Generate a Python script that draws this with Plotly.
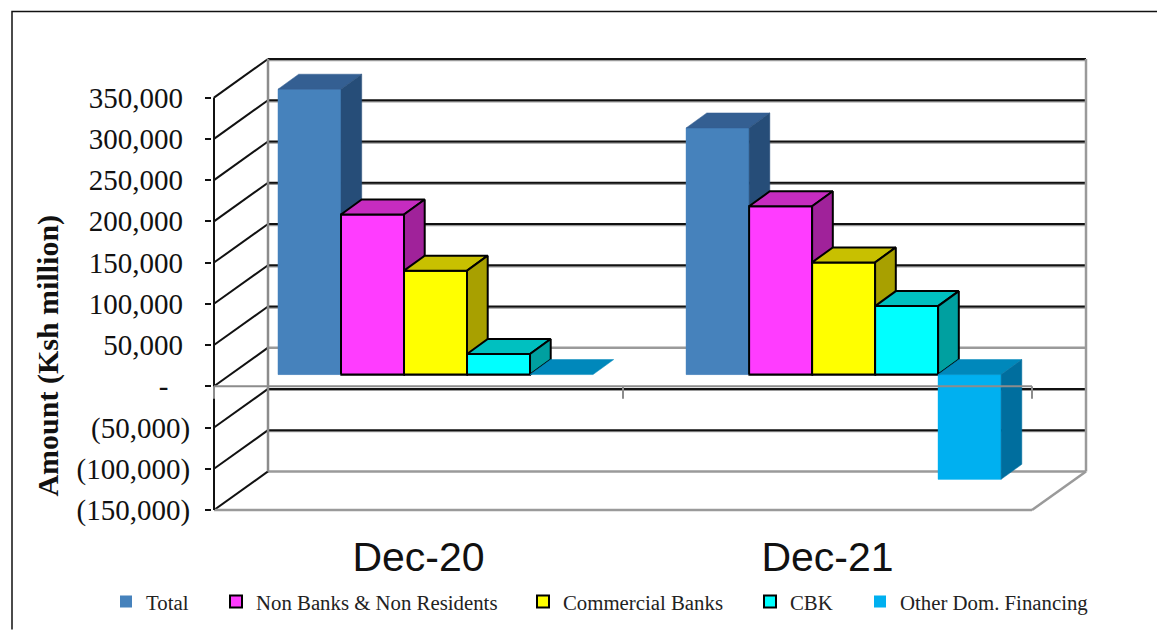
import plotly.graph_objects as go

categories = ["Dec-20", "Dec-21"]
series_names = ["Total", "Non Banks & Non Residents", "Commercial Banks", "CBK", "Other Dom. Financing"]
total_values = [346000, 299000]
non_bank_values = [194000, 204000]
commercial_values = [126000, 136000]
cbk_values = [25000, 83000]
other_values = [0, -127000]
tick_values = [350000, 300000, 250000, 200000, 150000, 100000, 50000, 0, -50000, -100000, -150000]
tick_labels = ["350,000\u00a0", "300,000\u00a0", "250,000\u00a0", "200,000\u00a0", "150,000\u00a0", "100,000\u00a0",
               "50,000\u00a0", "-\u00a0\u00a0\u00a0", "(50,000)", "(100,000)", "(150,000)"]
front_colors = ["#4682BC", "#FF3CFF", "#FFFF00", "#00FFFF", "#00B0F0"]
top_colors = ["#345F92", "#C62CC0", "#C8C000", "#00C0C0", "#0088BB"]
side_colors = ["#264D78", "#A0229A", "#A8A000", "#00A0A0", "#006E9E"]
outlined = [False, True, True, True, False]
legend_text_px = [146, 256, 563, 790, 900]

W, H = 1157, 630
L, R, T, B = 214, 1032, 98, 510.4      # front plane of the chart box, in page pixels
px_x = 2 / (R - L)
px_y = 500000 / (B - T)
wall_px_x, wall_px_y = 54, 38.6
wall_dx, wall_dy = wall_px_x * px_x, wall_px_y * px_y
depth_dx, depth_dy = 20.7 * px_x, 15 * px_y
bar_w = 63 * px_x
group_centers = [0.5416, 1.5394]
bar_base = 14200
pad = 2                                # room so the outer box lines are not clipped

all_values = [total_values, non_bank_values, commercial_values, cbk_values, other_values]
ymax, ymin = max(tick_values), min(tick_values)

# Plot area reaches the back wall of the box
pL, pR = L - pad, R + wall_px_x + pad
pT, pB = T - wall_px_y - pad, B + pad
x_range = [-pad * px_x, 2 + wall_dx + pad * px_x]
y_range = [ymin - pad * px_y, ymax + wall_dy + pad * px_y]

fig = go.Figure()

shapes = []
def seg(x0, y0, x1, y1, color, width, layer="below"):
    shapes.append(dict(type="line", xref="x", yref="y", x0=x0, y0=y0, x1=x1, y1=y1,
                       line=dict(color=color, width=width), layer=layer))

shadow = 1.2 * px_y
for t in tick_values:
    if t not in (0, ymin):
        seg(wall_dx, t + wall_dy - shadow, 2 + wall_dx, t + wall_dy - shadow, "#9A9A9A", 2)
        seg(wall_dx, t + wall_dy, 2 + wall_dx, t + wall_dy, "#111111", 2)
    else:
        seg(wall_dx, t + wall_dy, 2 + wall_dx, t + wall_dy, "#9A9A9A", 2.5)
    seg(0, t, wall_dx, t + wall_dy, "#111111", 2)
seg(wall_dx, ymin + wall_dy, wall_dx, ymax + wall_dy, "#8C8C8C", 2.5)
seg(2 + wall_dx, ymin + wall_dy, 2 + wall_dx, ymax + wall_dy, "#9A9A9A", 2.5)
seg(0, ymin, 2, ymin, "#9A9A9A", 2.5)
seg(2, ymin, 2 + wall_dx, ymin + wall_dy, "#9A9A9A", 2.5)
seg(0, ymin, 0, ymax, "#111111", 2)
# Category axis on the zero plane, over the bars
seg(0, 0, 2, 0, "#8C8C8C", 2, "above")
for gx in (0, 1, 2):
    seg(gx, 0, gx, -12.5 * px_y, "#8C8C8C", 2, "above")

# Frame round the picture
fx0 = (12 - pL) / (pR - pL)
fx1 = (W - pL) / (pR - pL)
fy0 = (pB - H) / (pB - pT)
fy1 = (pB - 12) / (pB - pT)
shapes.append(dict(type="path", xref="paper", yref="paper", layer="above",
                   path=f"M {fx0} {fy0} L {fx0} {fy1} L {fx1} {fy1}",
                   line=dict(color="#111111", width=1.5)))

for s, name in enumerate(series_names):
    xs = [c + (s - 2) * bar_w for c in group_centers]
    fig.add_trace(go.Bar(
        x=xs, y=all_values[s], base=[bar_base] * 2, width=bar_w, name=name,
        marker=dict(color=front_colors[s],
                    line=dict(color="#000000" if outlined[s] else front_colors[s],
                              width=2 if outlined[s] else 0)),
        cliponaxis=False, legend="legend" if s == 0 else f"legend{s + 1}",
        hoverinfo="skip"))

def face(xs, ys, color, line_on):
    fig.add_trace(go.Scatter(
        x=xs, y=ys, mode="lines", fill="toself", fillcolor=color,
        line=dict(color="#000000" if line_on else color, width=2 if line_on else 0.5),
        cliponaxis=False, showlegend=False, hoverinfo="skip"))

for g, c in enumerate(group_centers):
    for s in range(len(series_names)):
        v = all_values[s][g]
        x0 = c + (s - 2.5) * bar_w
        x1 = x0 + bar_w
        hi = bar_base + max(v, 0)
        lo = bar_base + min(v, 0)
        line_on = outlined[s]
        if hi > lo:
            face([x0, x1, x1, x0, x0], [lo, lo, hi, hi, lo], front_colors[s], line_on)
        face([x0, x1, x1 + depth_dx, x0 + depth_dx, x0],
             [hi, hi, hi + depth_dy, hi + depth_dy, hi], top_colors[s], line_on)
        if hi > lo:
            face([x1, x1 + depth_dx, x1 + depth_dx, x1, x1],
                 [lo, lo + depth_dy, hi + depth_dy, hi, lo], side_colors[s], line_on)

legend_font = dict(family="Liberation Serif", size=20.8, color="#222222")
legend_layouts = {}
for s in range(len(series_names)):
    key = "legend" if s == 0 else f"legend{s + 1}"
    legend_layouts[key] = dict(
        xref="container", yref="container", x=(legend_text_px[s] - 40) / W, y=1 - 602 / H,
        xanchor="left", yanchor="middle", orientation="h", font=legend_font,
        bgcolor="rgba(0,0,0,0)", itemclick=False, itemdoubleclick=False)

fig.update_layout(
    width=W, height=H, paper_bgcolor="#FFFFFF", plot_bgcolor="rgba(0,0,0,0)",
    margin=dict(l=pL, r=W - pR, t=pT, b=H - pB, autoexpand=False),
    barmode="overlay", showlegend=True, shapes=shapes,
    xaxis=dict(range=x_range, tickmode="array", tickvals=[0.5, 1.5], ticktext=categories,
               ticks="outside", ticklen=9, tickcolor="rgba(0,0,0,0)", showgrid=False, zeroline=False,
               showline=False, tickfont=dict(family="Liberation Sans", size=41, color="#111111")),
    yaxis=dict(range=y_range, tickmode="array", tickvals=tick_values, ticktext=tick_labels,
               ticks="outside", ticklen=6, tickwidth=2, tickcolor="#111111", showgrid=False, zeroline=False,
               showline=False, ticklabelstandoff=9,
               tickfont=dict(family="Liberation Serif", size=29, color="#111111")),
    annotations=[dict(text="<b>Amount (Ksh million)</b>", xref="paper", yref="paper",
                      x=(48 - pL) / (pR - pL), y=(pB - 356) / (pB - pT), textangle=-90, showarrow=False,
                      xanchor="center", yanchor="middle",
                      font=dict(family="Liberation Serif", size=30, color="#111111"))],
    **legend_layouts,
)

fig.write_html("out.html", config={"displayModeBar": False},
               post_script="document.body.style.margin='0';")
